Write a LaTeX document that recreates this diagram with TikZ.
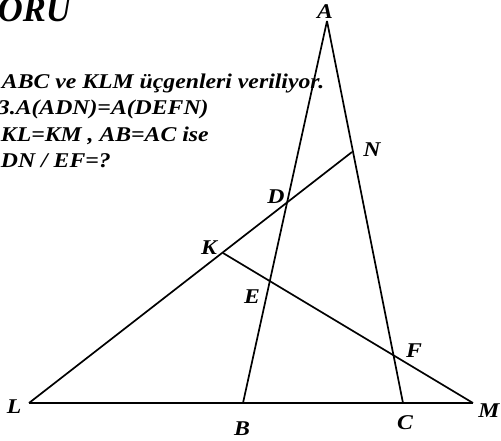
\documentclass[tikz,border=0pt]{standalone}
\usepackage{fontspec}
\setmainfont{Liberation Serif}
\begin{document}
\begin{tikzpicture}[x=1pt,y=-1pt,line width=1.7pt,line join=round,
  lbl/.style={font=\fontsize{21}{24}\selectfont\bfseries\itshape,inner sep=0pt,
    transform shape,xscale=1.13},
  txt/.style={lbl,anchor=base west}]
\clip (0,0) rectangle (501,440);
% points
\coordinate (A) at (327,21);
\coordinate (B) at (243,403);
\coordinate (C) at (403,403);
\coordinate (L) at (29,403);
\coordinate (M) at (473,403);
\coordinate (K) at (223,253);
\coordinate (N) at (352,152);
% lines
\draw (L) -- (M);
\draw (A) -- (B);
\draw (A) -- (C);
\draw (L) -- (N);
\draw (K) -- (M);
% labels
\node[lbl] (lA) at (325,12) {A};
\node[lbl] (lN) at (372,150) {N};
\node[lbl] (lD) at (276,197) {D};
\node[lbl] (lK) at (209,248) {K};
\node[lbl] (lE) at (252,297) {E};
\node[lbl] (lF) at (414,351) {F};
\node[lbl] (lL) at (14,407) {L};
\node[lbl] (lB) at (242,429) {B};
\node[lbl] (lC) at (405,423) {C};
\node[lbl] (lM) at (489,411) {M};
% text
\node[txt,font=\fontsize{36}{36}\selectfont\bfseries\itshape,xscale=0.85] (title) at (-3,21) {ORU};
\node[txt] (q1) at (1,88) {ABC ve KLM üçgenleri veriliyor.};
\node[txt] (q2) at (-3,114) {3.A(ADN)=A(DEFN)};
\node[txt] (q3) at (0,141) {KL=KM , AB=AC ise};
\node[txt] (q4) at (0,167) {DN / EF=?};
\end{tikzpicture}
\end{document}
